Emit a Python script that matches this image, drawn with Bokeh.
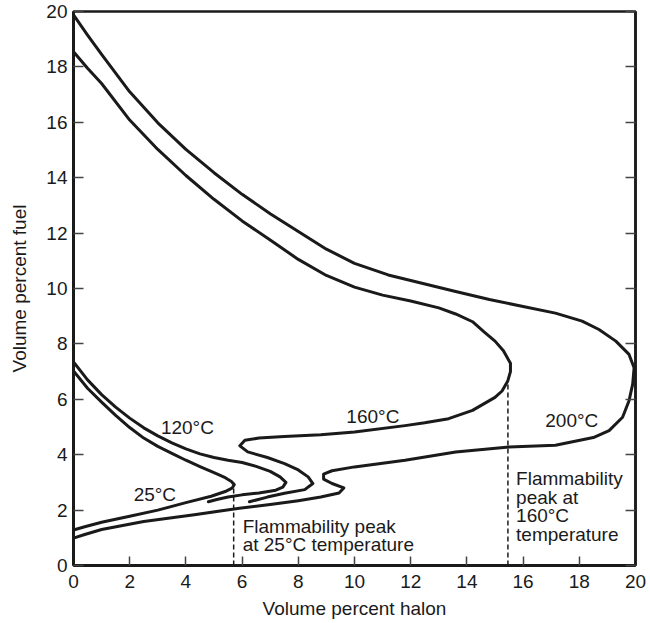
from bokeh.plotting import figure
from bokeh.models import LinearAxis, FixedTicker, Label, Range1d
from bokeh.embed import file_html
from bokeh.resources import INLINE

# ---- data ----
x25 = [0, 0.5, 1.0, 1.5, 2.0, 2.5, 3.0, 3.5, 4.0, 4.5, 5.0, 5.4, 5.62, 5.72, 5.64, 5.4, 4.9, 4.0, 3.0, 2.0, 1.0, 0.4, 0]
y25 = [7.02, 6.4, 5.9, 5.42, 4.98, 4.6, 4.3, 4.05, 3.8, 3.57, 3.35, 3.17, 3.03, 2.92, 2.79, 2.67, 2.5, 2.27, 2.0, 1.78, 1.56, 1.4, 1.28]

x120 = [0, 0.5, 1.0, 1.5, 2.0, 2.5, 3.0, 3.5, 4.0, 4.5, 5.0, 5.5, 6.0, 6.5, 7.0, 7.35, 7.56, 7.45, 7.2, 6.6, 6.0, 5.5, 5.1, 4.8]
y120 = [7.35, 6.7, 6.17, 5.72, 5.32, 4.97, 4.68, 4.43, 4.21, 4.03, 3.9, 3.8, 3.72, 3.58, 3.4, 3.2, 3.0, 2.83, 2.72, 2.62, 2.55, 2.47, 2.38, 2.3]

x160 = [0, 0.5, 1.0, 2.0, 3.0, 4.0, 5.0, 6.0, 7.0, 8.0, 9.0, 10.0, 11.0, 12.0, 13.0, 13.6, 14.2, 14.6, 15.0, 15.3, 15.55,
        15.55, 15.45, 15.25, 15.0, 14.2, 13.35, 12.5, 11.8, 10.0, 8.8, 7.5, 6.6, 6.1, 5.92, 6.2, 6.9, 7.51, 8.0, 8.35, 8.52,
        8.23, 7.51, 6.9, 6.26]
y160 = [18.55, 17.95, 17.4, 16.08, 15.02, 14.08, 13.22, 12.44, 11.75, 11.05, 10.47, 10.05, 9.76, 9.55, 9.3, 9.08, 8.8, 8.44, 8.1, 7.75, 7.3,
        7.0, 6.65, 6.3, 6.07, 5.6, 5.3, 5.15, 5.05, 4.82, 4.72, 4.66, 4.6, 4.52, 4.32, 4.1, 3.9, 3.68, 3.45, 3.2, 2.96,
        2.74, 2.61, 2.47, 2.3]

x200 = [0, 0.5, 1.0, 2.0, 3.0, 4.0, 5.0, 6.0, 7.0, 8.0, 9.0, 10.0, 11.2, 12.4, 13.6, 14.8, 16.0, 17.15, 18.1, 18.7, 19.3,
        19.77, 19.95, 19.9, 19.77, 19.54, 19.06, 18.5, 17.15, 15.5, 13.6, 11.8, 10.0, 9.2, 8.9, 8.9, 9.2, 9.62, 9.45,
        8.8, 8.0, 7.0, 5.9, 4.3, 2.5, 1.0, 0.4, 0]
y200 = [19.88, 19.15, 18.45, 17.1, 15.98, 15.02, 14.18, 13.4, 12.7, 12.06, 11.42, 10.91, 10.49, 10.19, 9.89, 9.6, 9.35, 9.11, 8.82, 8.52, 8.1,
        7.62, 7.14, 6.55, 5.95, 5.35, 4.87, 4.62, 4.34, 4.28, 4.1, 3.8, 3.56, 3.42, 3.3, 3.12, 2.96, 2.8, 2.62,
        2.47, 2.34, 2.2, 2.07, 1.83, 1.59, 1.3, 1.12, 0.99]

peak_x = [5.7, 15.46]
peak_y = [2.85, 6.72]

ticks = [0, 2, 4, 6, 8, 10, 12, 14, 16, 18, 20]

FONT = "Liberation Sans"
FS = "19px"
INK = "#1a1a1a"

p = figure(width=647, height=621, x_range=Range1d(0, 20), y_range=Range1d(0, 20),
           output_backend="svg", toolbar_location=None,
           min_border_left=73, min_border_top=11, min_border_right=12, min_border_bottom=10)

p.grid.visible = False
p.outline_line_color = INK
p.outline_line_width = 2.5
p.background_fill_color = "white"
p.border_fill_color = "white"

for ax in (p.xaxis[0], p.yaxis[0]):
    ax.ticker = FixedTicker(ticks=ticks)
    ax.axis_line_width = 3
    ax.axis_line_color = INK
    ax.major_tick_in = 9
    ax.major_tick_out = 0
    ax.minor_tick_line_color = None
    ax.major_tick_line_color = "#444444"
    ax.major_tick_line_width = 1.5
    ax.major_label_text_font = FONT
    ax.major_label_text_font_size = FS
    ax.major_label_text_color = INK
    ax.axis_label_text_font = FONT
    ax.axis_label_text_font_size = FS
    ax.axis_label_text_font_style = "normal"
    ax.axis_label_text_color = INK

p.xaxis.axis_label = "Volume percent halon"
p.yaxis.axis_label = "Volume percent fuel"
p.xaxis.major_label_standoff = 9
p.xaxis.axis_label_standoff = 7
p.yaxis.major_label_standoff = 6
p.yaxis.axis_label_standoff = 13
p.yaxis.major_tick_in = 10

right = LinearAxis(ticker=FixedTicker(ticks=ticks))
right.axis_line_width = 2.5
right.axis_line_color = INK
right.major_tick_in = 10
right.major_tick_out = 0
right.minor_tick_line_color = None
right.major_tick_line_color = "#444444"
right.major_tick_line_width = 1.5
right.major_label_text_font_size = "1px"
right.major_label_text_color = None
right.major_label_standoff = 0
p.add_layout(right, "right")

for xs, ys in ((x25, y25), (x120, y120), (x160, y160), (x200, y200)):
    p.line(xs, ys, line_color=INK, line_width=3, line_join="round", line_cap="round")

p.segment(x0=peak_x, y0=[0, 0], x1=peak_x, y1=peak_y, line_color=INK,
          line_width=1.5, line_dash="5 3")

def lab(x, y, t, baseline="middle"):
    p.add_layout(Label(x=x, y=y, text=t, text_font=FONT, text_font_size=FS,
                       text_color=INK, text_align="left", text_baseline=baseline,
                       text_line_height=0.88))

lab(3.11, 4.98, "120°C")
lab(2.14, 2.58, "25°C")
lab(9.71, 5.37, "160°C")
lab(16.79, 5.24, "200°C")
lab(6.02, 1.08, "Flammability peak\nat 25°C temperature")
lab(15.75, 2.13, "Flammability\npeak at\n160°C\ntemperature")

open("out.html", "w").write(file_html(p, INLINE))
